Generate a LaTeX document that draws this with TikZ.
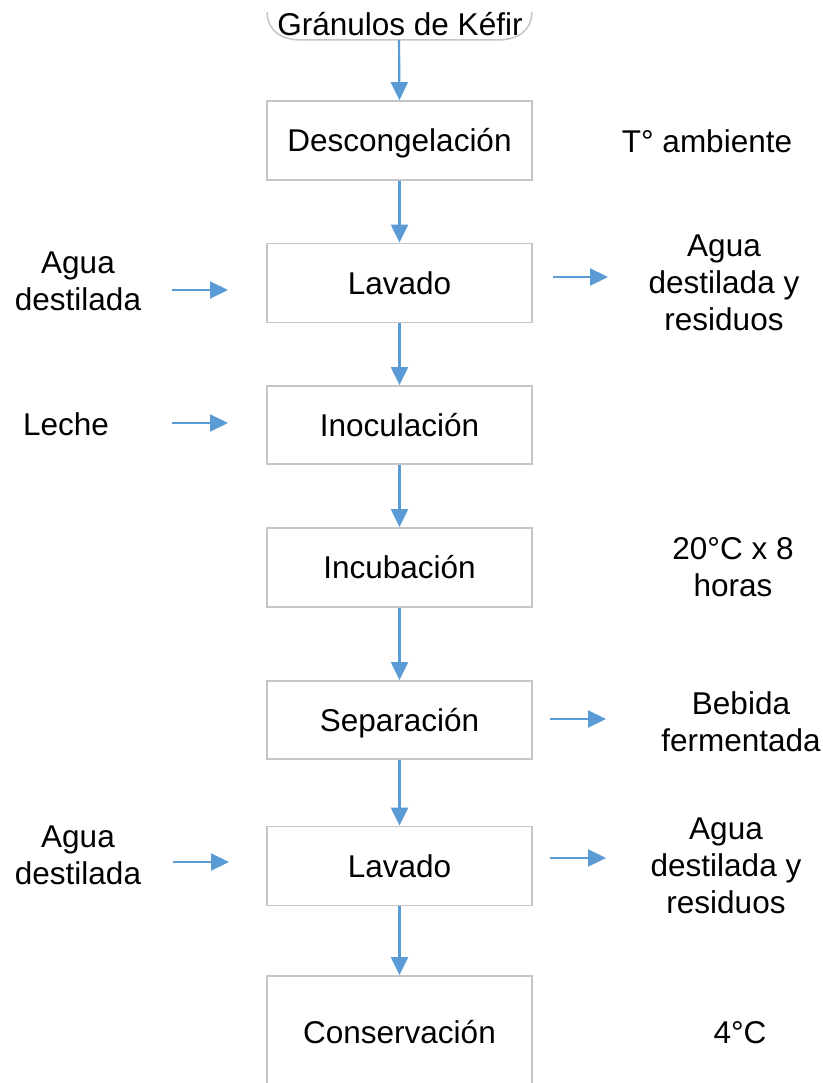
\documentclass[tikz,border=0pt]{standalone}
\usepackage{fontspec}
\setmainfont{Liberation Sans}
\usetikzlibrary{arrows.meta}
\definecolor{arrowblue}{HTML}{5B9BD5}
\definecolor{boxgray}{HTML}{C6C6C6}
\begin{document}
\begin{tikzpicture}[x=1pt,y=-1pt,
  every node/.style={font=\fontsize{31.5}{37}\selectfont, inner sep=0pt},
  oneline/.style={text height=22.6pt, text depth=0pt},
  stepbox/.style={draw=boxgray, line width=1.8pt, minimum width=265pt, minimum height=79pt, oneline},
  multi/.style={align=center},
  flow/.style={draw=arrowblue, line width=2.2pt, -{Triangle[length=18pt,width=17pt]}}
]
\useasboundingbox (0,0) rectangle (822,1083);
\clip (0,0) rectangle (822,1083);
% top terminal
\node[oneline] (gran) at (400,24) {Gránulos de Kéfir};
\draw[boxgray, line width=1.5pt] (267,12) .. controls (268,32) and (282,40) .. (302,40) -- (497,40) .. controls (517,40) and (531,32) .. (532,12);
\coordinate (granbot) at (399,40);
% process boxes
\node[stepbox] (desc) at (399.5,140.5) {Descongelación};
\node[stepbox] (lav1) at (399.5,283) {Lavado};
\node[stepbox, minimum height=78pt] (inoc) at (399.5,425) {Inoculación};
\node[stepbox] (incu) at (399.5,567.5) {Incubación};
\node[stepbox, minimum height=78pt] (sep) at (399.5,720) {Separación};
\node[stepbox] (lav2) at (399.5,866) {Lavado};
\node[stepbox, minimum height=112pt] (cons) at (399.5,1032) {Conservación};
% side texts
\node[oneline] (tamb) at (707,141) {T° ambiente};
\node[multi] (agua1) at (78,281) {Agua\\destilada};
\node[multi] (res1) at (724,283) {Agua\\destilada y\\residuos};
\node[oneline] (leche) at (66,424) {Leche};
\node[multi] (temp) at (733,567) {20°C x 8\\horas};
\node[multi] (beb) at (741,722) {Bebida\\fermentada};
\node[multi] (agua2) at (78,855) {Agua\\destilada};
\node[multi] (res2) at (726,866) {Agua\\destilada y\\residuos};
\node[oneline] (frio) at (740,1032) {4°C};
% vertical flow
\draw[flow] (granbot) -- (desc.north);
\draw[flow] (desc.south) -- (lav1.north);
\draw[flow] (lav1.south) -- (inoc.north);
\draw[flow] (inoc.south) -- (incu.north);
\draw[flow] (incu.south) -- (sep.north);
\draw[flow] (sep.south) -- (lav2.north);
\draw[flow] (lav2.south) -- (cons.north);
% side arrows
\coordinate (a1s) at (172,290); \coordinate (a1e) at (228,290);
\coordinate (r1s) at (553,277); \coordinate (r1e) at (608,277);
\coordinate (l1s) at (172,423); \coordinate (l1e) at (228,423);
\coordinate (b1s) at (550,719); \coordinate (b1e) at (606,719);
\coordinate (a2s) at (173,862); \coordinate (a2e) at (229,862);
\coordinate (r2s) at (550,858); \coordinate (r2e) at (606,858);
\draw[flow] (a1s) -- (a1e);
\draw[flow] (r1s) -- (r1e);
\draw[flow] (l1s) -- (l1e);
\draw[flow] (b1s) -- (b1e);
\draw[flow] (a2s) -- (a2e);
\draw[flow] (r2s) -- (r2e);
\end{tikzpicture}
\end{document}
